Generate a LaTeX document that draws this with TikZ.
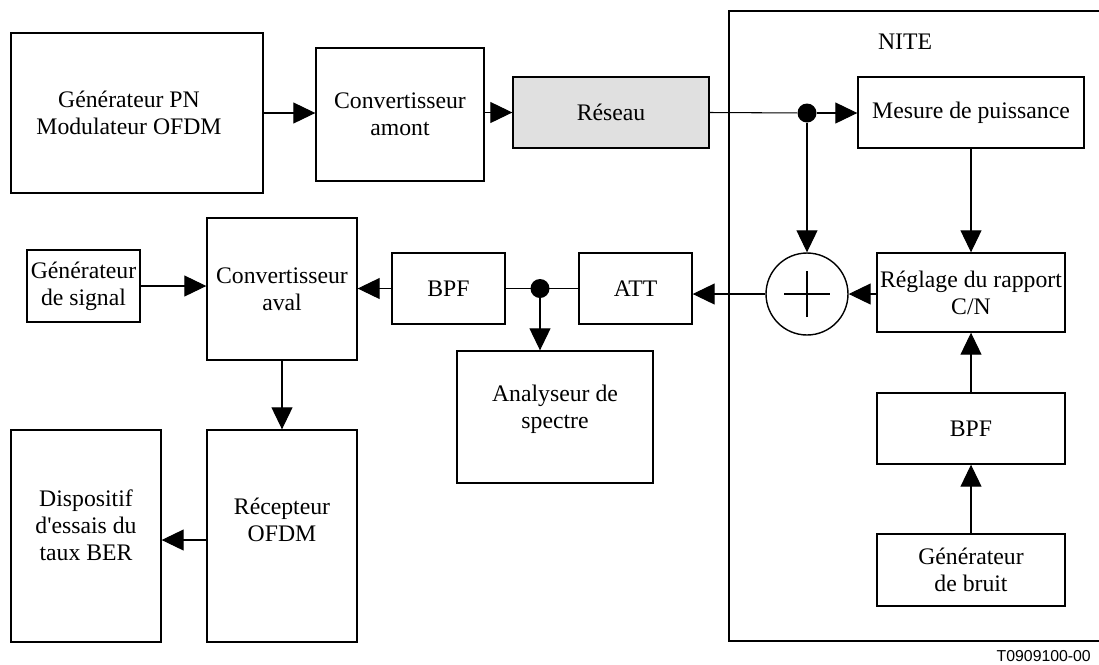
\documentclass[tikz,border=0pt]{standalone}
\usepackage{fontspec}
\setmainfont{Liberation Serif}
\setsansfont{Liberation Sans}
\usetikzlibrary{arrows.meta}
\definecolor{reseaugray}{RGB}{224,224,224}
\tikzset{
  blk/.style  ={draw=black, line width=0.8pt, fill=white, align=center, inner sep=0pt},
  conn/.style ={-{Triangle[length=0.44cm,width=0.42cm]}, line width=0.6pt},
  wire/.style ={line width=0.6pt},
  junc/.style ={circle, fill=black, inner sep=0pt, minimum size=0.38cm},
  txt/.style  ={align=center}
}

\begin{document}
\begin{tikzpicture}[x=0.02cm, y=-0.02cm, every node/.style={font=\fontsize{13.5}{15.4}\selectfont}]
    \clip (0,0) rectangle (1099,664);

    % NITE frame (runs off the right edge)
    \draw[line width=0.8pt] (1120,11) -- (729,11) -- (729,641) -- (1120,641);
    \node (nite) at (905,42) {NITE};

    % upper chain
    \node[blk, minimum width=5.04cm, minimum height=3.2cm] (genpn) at (137,113) {};
    \node[txt] (genpntxt) at ([xshift=-0.16cm]genpn.center) {Générateur PN\\Modulateur OFDM};
    \node[blk, minimum width=3.36cm, minimum height=2.66cm] (convamont) at (400,114.5) {Convertisseur\\amont};
    \node[blk, fill=reseaugray, minimum width=3.92cm, minimum height=1.42cm] (reseau) at (611,112.5) {Réseau};
    \node[blk, minimum width=4.52cm, minimum height=1.42cm] (mesure) at (971,112.5) {Mesure de puissance};
    \node[junc] (j1) at (807,113) {};

    % NITE inside
    \node[circle, draw, line width=0.8pt, fill=white, minimum size=1.64cm, inner sep=0pt] (sum) at (807,294) {};
    \draw[line width=0.6pt] ([xshift=-0.46cm]sum.center) -- ([xshift=0.46cm]sum.center);
    \draw[line width=0.6pt] ([yshift=-0.46cm]sum.center) -- ([yshift=0.46cm]sum.center);
    \node[blk, minimum width=3.76cm, minimum height=1.58cm] (reglage) at (971,292.5) {Réglage du rapport\\C/N};
    \node[blk, minimum width=3.76cm, minimum height=1.42cm] (bpfb) at (971,428.5) {BPF};
    \node[blk, minimum width=3.76cm, minimum height=1.44cm] (bruit) at (971,570) {Générateur\\de bruit};

    % receive side
    \node[blk, minimum width=2.26cm, minimum height=1.44cm] (gensig) at (83.5,286) {Générateur\\de signal};
    \node[blk, minimum width=3.0cm, minimum height=2.84cm] (convaval) at (282,289) {Convertisseur\\aval};
    \node[blk, minimum width=2.26cm, minimum height=1.42cm] (bpfa) at (448.5,288.5) {BPF};
    \node[blk, minimum width=2.26cm, minimum height=1.42cm] (att) at (635.5,288.5) {ATT};
    \node[junc] (j2) at (540,288.5) {};
    \node[blk, minimum width=3.92cm, minimum height=2.64cm] (spectre) at (555,417) {};
    \node[txt] (spectretxt) at ([yshift=0.16cm]spectre.center) {Analyseur de\\spectre};
    \node[blk, minimum width=3.0cm, minimum height=4.24cm] (recep) at (282,536) {};
    \node[txt] (receptxt) at ([yshift=0.32cm]recep.center) {Récepteur\\OFDM};
    \node[blk, minimum width=3.0cm, minimum height=4.24cm] (dispo) at (86,536) {};
    \node[txt] (dispotxt) at ([yshift=0.22cm]dispo.center) {Dispositif\\d\textquotesingle essais du\\taux BER};

    % connectors
    \draw[conn] (genpn.east) -- (genpn.east -| convamont.west);
    \draw[conn] (convamont.east |- reseau) -- (reseau.west);
    \draw[wire] (reseau.east) -- (j1);
    \draw[conn] (j1) -- (j1 -| mesure.west);
    \draw[conn] (j1) -- (sum.north);
    \draw[conn] (mesure) -- (reglage);
    \draw[conn] (reglage.west |- sum) -- (sum.east);
    \draw[conn] (bruit) -- (bpfb);
    \draw[conn] (bpfb) -- (reglage);
    \draw[conn] (sum.west) -- (sum.west -| att.east);
    \draw[wire] (att.west) -- (bpfa.east);
    \draw[conn] (j2) -- (j2 |- spectre.north);
    \draw[conn] (bpfa.west) -- (bpfa.west -| convaval.east);
    \draw[conn] (gensig.east) -- (gensig.east -| convaval.west);
    \draw[conn] (convaval) -- (recep);
    \draw[conn] (recep.west |- 0,540) -- (dispo.east |- 0,540);

    % figure code
    \node[anchor=east, font=\sffamily\fontsize{9}{10}\selectfont] (figcode) at (1097,656) {T0909100-00};
\end{tikzpicture}
\end{document}
